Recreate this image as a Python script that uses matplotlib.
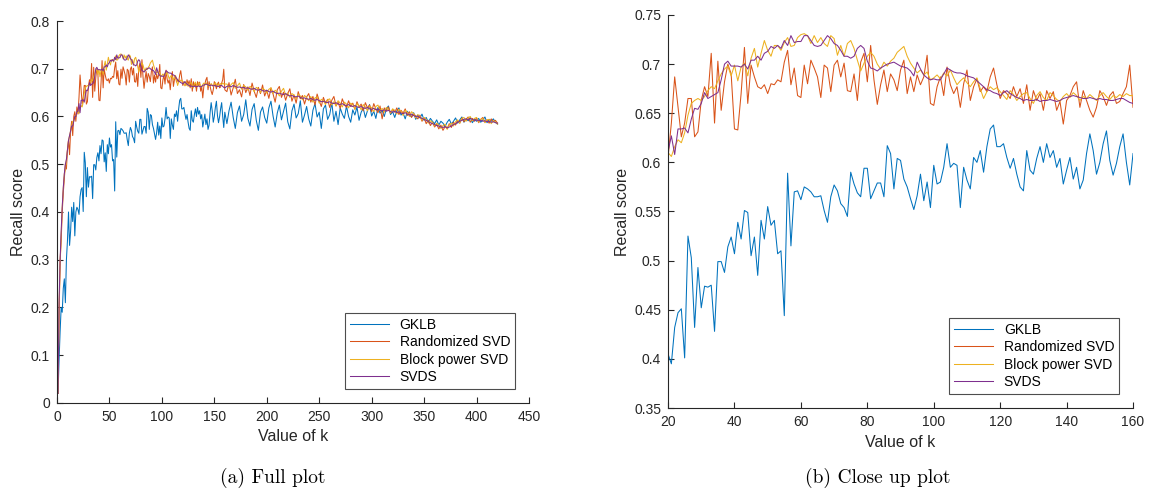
import numpy as np
import matplotlib
matplotlib.use("Agg")
import matplotlib.pyplot as plt
from matplotlib.ticker import FuncFormatter

# MATLAB default line colours
COLORS = ["#0072BD", "#D95319", "#EDB120", "#7E2F8E"]
LABELS = ["GKLB", "Randomized SVD", "Block power SVD", "SVDS"]

# values of k: start (1..19), close-up range (20..160), tail (every 2nd k to 420)
k_start = np.arange(1, 20)
k_mid = np.arange(20, 161)
k_tail = np.arange(162, 421, 2)

# ---- k = 1..19 ----
gklb_start = [0.02, 0.09, 0.15, 0.20, 0.19, 0.24, 0.26, 0.21, 0.30, 0.34,
              0.40, 0.33, 0.36, 0.41, 0.38, 0.42, 0.35, 0.40, 0.41]
rand_start = [0.02, 0.18, 0.30, 0.34, 0.40, 0.44, 0.47, 0.50, 0.49, 0.53,
              0.55, 0.52, 0.57, 0.59, 0.56, 0.60, 0.61, 0.59, 0.62]
block_start = [0.02, 0.20, 0.29, 0.35, 0.41, 0.45, 0.48, 0.49, 0.51, 0.53,
               0.55, 0.56, 0.57, 0.58, 0.59, 0.59, 0.60, 0.60, 0.61]
svds_start = [0.02, 0.21, 0.30, 0.36, 0.41, 0.45, 0.48, 0.50, 0.51, 0.53,
              0.55, 0.56, 0.57, 0.58, 0.58, 0.59, 0.60, 0.60, 0.61]

# ---- k = 20..160 ----
gklb_mid = [0.405, 0.395, 0.432, 0.447, 0.451, 0.401, 0.525, 0.503, 0.432, 0.493,
            0.452, 0.474, 0.473, 0.475, 0.428, 0.499, 0.499, 0.488, 0.514, 0.524,
            0.507, 0.539, 0.522, 0.551, 0.549, 0.505, 0.524, 0.485, 0.541, 0.522,
            0.555, 0.536, 0.541, 0.507, 0.510, 0.444, 0.589, 0.515, 0.570, 0.571,
            0.562, 0.575, 0.573, 0.570, 0.565, 0.565, 0.566, 0.551, 0.539, 0.565,
            0.577, 0.571, 0.558, 0.554, 0.545, 0.590, 0.578, 0.569, 0.565, 0.594,
            0.594, 0.563, 0.571, 0.579, 0.579, 0.565, 0.617, 0.609, 0.573, 0.604,
            0.602, 0.583, 0.575, 0.563, 0.552, 0.566, 0.588, 0.561, 0.580, 0.554,
            0.597, 0.578, 0.580, 0.595, 0.619, 0.595, 0.599, 0.597, 0.554, 0.595,
            0.582, 0.573, 0.605, 0.600, 0.612, 0.590, 0.616, 0.634, 0.638, 0.616,
            0.616, 0.619, 0.605, 0.594, 0.604, 0.588, 0.575, 0.571, 0.612, 0.592,
            0.588, 0.604, 0.616, 0.600, 0.619, 0.605, 0.612, 0.595, 0.604, 0.578,
            0.592, 0.605, 0.583, 0.595, 0.573, 0.582, 0.609, 0.629, 0.612, 0.588,
            0.600, 0.619, 0.632, 0.602, 0.587, 0.599, 0.616, 0.629, 0.600, 0.577,
            0.609]
rand_mid = [0.605, 0.640, 0.687, 0.657, 0.626, 0.640, 0.665, 0.665, 0.626, 0.631,
            0.663, 0.677, 0.667, 0.711, 0.640, 0.703, 0.653, 0.682, 0.700, 0.690,
            0.634, 0.633, 0.670, 0.717, 0.660, 0.699, 0.687, 0.677, 0.675, 0.679,
            0.670, 0.680, 0.679, 0.684, 0.682, 0.702, 0.714, 0.679, 0.696, 0.668,
            0.666, 0.699, 0.680, 0.704, 0.696, 0.687, 0.666, 0.699, 0.696, 0.672,
            0.699, 0.704, 0.687, 0.701, 0.673, 0.672, 0.690, 0.663, 0.702, 0.711,
            0.682, 0.719, 0.684, 0.659, 0.679, 0.694, 0.672, 0.690, 0.684, 0.673,
            0.694, 0.704, 0.670, 0.687, 0.672, 0.689, 0.679, 0.687, 0.709, 0.660,
            0.658, 0.677, 0.687, 0.668, 0.697, 0.679, 0.670, 0.677, 0.656, 0.680,
            0.694, 0.663, 0.677, 0.685, 0.672, 0.677, 0.672, 0.687, 0.696, 0.679,
            0.665, 0.673, 0.670, 0.665, 0.677, 0.667, 0.675, 0.660, 0.679, 0.653,
            0.673, 0.663, 0.670, 0.653, 0.673, 0.665, 0.672, 0.653, 0.662, 0.639,
            0.663, 0.668, 0.677, 0.682, 0.656, 0.673, 0.663, 0.653, 0.646, 0.656,
            0.673, 0.667, 0.658, 0.668, 0.672, 0.660, 0.662, 0.670, 0.677, 0.699,
            0.656]
block_mid = [0.610, 0.606, 0.616, 0.623, 0.620, 0.630, 0.648, 0.660, 0.663, 0.665,
             0.663, 0.667, 0.673, 0.677, 0.675, 0.683, 0.690, 0.695, 0.698, 0.688,
             0.699, 0.683, 0.697, 0.701, 0.688, 0.706, 0.716, 0.697, 0.711, 0.724,
             0.714, 0.708, 0.719, 0.719, 0.714, 0.722, 0.727, 0.718, 0.719, 0.727,
             0.730, 0.731, 0.729, 0.721, 0.729, 0.722, 0.727, 0.721, 0.718, 0.729,
             0.726, 0.709, 0.719, 0.708, 0.721, 0.724, 0.716, 0.704, 0.693, 0.701,
             0.708, 0.712, 0.708, 0.700, 0.695, 0.702, 0.698, 0.703, 0.706, 0.712,
             0.715, 0.718, 0.708, 0.701, 0.696, 0.691, 0.694, 0.689, 0.692, 0.684,
             0.686, 0.689, 0.685, 0.691, 0.688, 0.694, 0.686, 0.679, 0.683, 0.686,
             0.681, 0.677, 0.682, 0.686, 0.675, 0.665, 0.672, 0.677, 0.674, 0.676,
             0.672, 0.668, 0.664, 0.673, 0.669, 0.663, 0.667, 0.670, 0.671, 0.665,
             0.660, 0.668, 0.672, 0.666, 0.663, 0.671, 0.668, 0.664, 0.662, 0.667,
             0.670, 0.666, 0.671, 0.668, 0.663, 0.667, 0.665, 0.669, 0.666, 0.663,
             0.668, 0.671, 0.667, 0.664, 0.668, 0.666, 0.669, 0.667, 0.670, 0.668,
             0.668]
svds_mid = [0.611, 0.627, 0.608, 0.634, 0.634, 0.635, 0.630, 0.644, 0.655, 0.654,
            0.660, 0.671, 0.665, 0.667, 0.669, 0.671, 0.684, 0.700, 0.703, 0.698,
            0.698, 0.698, 0.697, 0.700, 0.695, 0.704, 0.704, 0.708, 0.704, 0.711,
            0.713, 0.718, 0.716, 0.719, 0.716, 0.724, 0.719, 0.729, 0.722, 0.723,
            0.723, 0.729, 0.729, 0.724, 0.719, 0.718, 0.719, 0.724, 0.729, 0.726,
            0.721, 0.719, 0.714, 0.708, 0.708, 0.706, 0.708, 0.716, 0.719, 0.716,
            0.703, 0.696, 0.695, 0.693, 0.696, 0.698, 0.700, 0.701, 0.702, 0.700,
            0.698, 0.697, 0.696, 0.693, 0.688, 0.702, 0.695, 0.689, 0.686, 0.684,
            0.685, 0.684, 0.684, 0.690, 0.696, 0.694, 0.692, 0.691, 0.691, 0.690,
            0.688, 0.687, 0.686, 0.683, 0.680, 0.677, 0.674, 0.673, 0.671, 0.670,
            0.668, 0.671, 0.673, 0.670, 0.668, 0.666, 0.665, 0.663, 0.664, 0.663,
            0.663, 0.664, 0.662, 0.663, 0.663, 0.664, 0.663, 0.662, 0.663, 0.665,
            0.666, 0.667, 0.668, 0.667, 0.666, 0.665, 0.665, 0.666, 0.665, 0.664,
            0.665, 0.664, 0.664, 0.663, 0.663, 0.664, 0.665, 0.665, 0.663, 0.661,
            0.660]

# ---- k = 162..420 (every 2nd k) ----
gklb_tail = [0.585, 0.612, 0.630, 0.598, 0.575, 0.608, 0.622, 0.590, 0.604, 0.635,
             0.596, 0.580, 0.615, 0.627, 0.592, 0.571, 0.609, 0.620, 0.598, 0.586,
             0.618, 0.632, 0.601, 0.578, 0.607, 0.624, 0.593, 0.611, 0.628, 0.589,
             0.574, 0.612, 0.626, 0.597, 0.606, 0.633, 0.588, 0.603, 0.621, 0.595,
             0.580, 0.613, 0.627, 0.599, 0.609, 0.575, 0.616, 0.624, 0.594, 0.604,
             0.629, 0.590, 0.611, 0.583, 0.618, 0.605, 0.596, 0.622, 0.600, 0.588,
             0.614, 0.603, 0.620, 0.592, 0.609, 0.617, 0.598, 0.612, 0.625, 0.601,
             0.611, 0.596, 0.619, 0.607, 0.613, 0.600, 0.616, 0.622, 0.604, 0.610,
             0.598, 0.612, 0.618, 0.603, 0.607, 0.595, 0.611, 0.604, 0.599, 0.608,
             0.594, 0.603, 0.597, 0.605, 0.592, 0.598, 0.588, 0.596, 0.590, 0.585,
             0.593, 0.582, 0.590, 0.586, 0.579, 0.588, 0.594, 0.584, 0.590, 0.597,
             0.586, 0.593, 0.599, 0.588, 0.595, 0.591, 0.598, 0.587, 0.594, 0.590,
             0.596, 0.588, 0.593, 0.599, 0.587, 0.594, 0.590, 0.595, 0.588, 0.584]
rand_tail = [0.652, 0.671, 0.645, 0.660, 0.678, 0.648, 0.656, 0.641, 0.667, 0.650,
             0.662, 0.644, 0.670, 0.653, 0.640, 0.661, 0.648, 0.666, 0.643, 0.655,
             0.638, 0.660, 0.647, 0.630, 0.656, 0.663, 0.640, 0.651, 0.634, 0.648,
             0.658, 0.632, 0.645, 0.628, 0.652, 0.637, 0.644, 0.626, 0.641, 0.648,
             0.630, 0.642, 0.624, 0.647, 0.633, 0.621, 0.640, 0.628, 0.636, 0.619,
             0.634, 0.642, 0.622, 0.630, 0.617, 0.637, 0.625, 0.619, 0.633, 0.621,
             0.628, 0.615, 0.631, 0.620, 0.626, 0.612, 0.629, 0.618, 0.624, 0.610,
             0.627, 0.616, 0.608, 0.622, 0.595, 0.618, 0.612, 0.620, 0.607, 0.615,
             0.609, 0.618, 0.604, 0.613, 0.607, 0.616, 0.602, 0.610, 0.598, 0.606,
             0.601, 0.595, 0.603, 0.590, 0.597, 0.585, 0.592, 0.581, 0.588, 0.578,
             0.584, 0.574, 0.582, 0.571, 0.579, 0.575, 0.585, 0.577, 0.588, 0.582,
             0.592, 0.586, 0.597, 0.589, 0.594, 0.599, 0.588, 0.596, 0.590, 0.597,
             0.587, 0.594, 0.598, 0.588, 0.593, 0.586, 0.595, 0.589, 0.592, 0.586]
block_tail = [0.668, 0.660, 0.667, 0.671, 0.659, 0.664, 0.670, 0.657, 0.665, 0.662,
              0.655, 0.663, 0.660, 0.652, 0.661, 0.658, 0.650, 0.659, 0.656, 0.649,
              0.657, 0.660, 0.648, 0.655, 0.651, 0.643, 0.653, 0.659, 0.645, 0.649,
              0.640, 0.648, 0.645, 0.637, 0.647, 0.643, 0.635, 0.644, 0.640, 0.633,
              0.642, 0.630, 0.639, 0.641, 0.628, 0.636, 0.633, 0.625, 0.635, 0.637,
              0.624, 0.631, 0.622, 0.633, 0.628, 0.620, 0.630, 0.626, 0.618, 0.628,
              0.625, 0.616, 0.627, 0.622, 0.614, 0.625, 0.620, 0.612, 0.622, 0.618,
              0.610, 0.621, 0.624, 0.612, 0.617, 0.609, 0.619, 0.615, 0.607, 0.616,
              0.613, 0.605, 0.615, 0.611, 0.602, 0.613, 0.609, 0.600, 0.610, 0.606,
              0.597, 0.604, 0.600, 0.592, 0.598, 0.594, 0.586, 0.591, 0.588, 0.580,
              0.586, 0.582, 0.575, 0.581, 0.584, 0.573, 0.582, 0.586, 0.580, 0.589,
              0.593, 0.586, 0.596, 0.598, 0.590, 0.597, 0.600, 0.591, 0.596, 0.598,
              0.588, 0.594, 0.596, 0.587, 0.593, 0.594, 0.585, 0.591, 0.589, 0.584]
svds_tail = [0.663, 0.664, 0.662, 0.665, 0.663, 0.661, 0.662, 0.660, 0.661, 0.659,
             0.660, 0.658, 0.657, 0.659, 0.656, 0.655, 0.657, 0.654, 0.653, 0.655,
             0.652, 0.651, 0.653, 0.650, 0.648, 0.649, 0.647, 0.646, 0.648, 0.645,
             0.643, 0.644, 0.642, 0.641, 0.643, 0.640, 0.638, 0.639, 0.637, 0.636,
             0.638, 0.635, 0.634, 0.636, 0.633, 0.631, 0.632, 0.630, 0.629, 0.631,
             0.628, 0.627, 0.629, 0.626, 0.625, 0.627, 0.624, 0.623, 0.625, 0.622,
             0.621, 0.623, 0.620, 0.619, 0.621, 0.618, 0.617, 0.619, 0.616, 0.615,
             0.617, 0.614, 0.616, 0.613, 0.612, 0.614, 0.611, 0.613, 0.610, 0.609,
             0.611, 0.608, 0.610, 0.607, 0.606, 0.608, 0.605, 0.603, 0.605, 0.602,
             0.600, 0.601, 0.598, 0.596, 0.594, 0.592, 0.589, 0.587, 0.585, 0.583,
             0.581, 0.580, 0.578, 0.577, 0.579, 0.576, 0.578, 0.580, 0.583, 0.585,
             0.588, 0.590, 0.592, 0.594, 0.595, 0.593, 0.596, 0.594, 0.592, 0.593,
             0.591, 0.592, 0.590, 0.591, 0.589, 0.590, 0.588, 0.589, 0.587, 0.586]

series_start = [gklb_start, rand_start, block_start, svds_start]
series_mid = [gklb_mid, rand_mid, block_mid, svds_mid]
series_tail = [gklb_tail, rand_tail, block_tail, svds_tail]

plt.rcParams["font.family"] = ["Liberation Sans", "DejaVu Sans"]
AX_COLOR = "#262626"

fig = plt.figure(figsize=(11.51, 4.93), dpi=100)
ax1 = fig.add_axes([0.0495, 0.1826, 0.4101, 0.7748])
ax2 = fig.add_axes([0.5804, 0.1724, 0.4040, 0.7972])

k_full = np.concatenate([k_start, k_mid, k_tail])
for s0, s1, s2, color, label in zip(series_start, series_mid, series_tail, COLORS, LABELS):
    ax1.plot(k_full, np.concatenate([s0, s1, s2]), color=color, lw=0.75, label=label)
    ax2.plot(k_mid, s1, color=color, lw=0.75, label=label)

ax1.set_xlim(0, 450)
ax1.set_ylim(0, 0.8)
ax1.set_xticks(np.arange(0, 451, 50))
ax1.set_yticks(np.arange(0, 0.81, 0.1))

ax2.set_xlim(20, 160)
ax2.set_ylim(0.35, 0.75)
ax2.set_xticks(np.arange(20, 161, 20))
ax2.set_yticks(np.arange(0.35, 0.751, 0.05))

fmt = FuncFormatter(lambda v, pos: f"{round(v, 3):g}")
for ax in (ax1, ax2):
    ax.yaxis.set_major_formatter(fmt)
    ax.spines["top"].set_visible(False)
    ax.spines["right"].set_visible(False)
    for sp in ("left", "bottom"):
        ax.spines[sp].set_color(AX_COLOR)
        ax.spines[sp].set_linewidth(0.8)
    ax.tick_params(direction="in", length=4, width=0.8, colors=AX_COLOR,
                   labelsize=10, pad=5)
    ax.set_xlabel("Value of k", fontsize=11.5, color=AX_COLOR, labelpad=4)
    ax.set_ylabel("Recall score", fontsize=11.5, color=AX_COLOR, labelpad=3)
    leg = ax.legend(loc="lower right", fontsize=10, frameon=True, fancybox=False,
                    edgecolor="#4d4d4d", framealpha=1, handlelength=2.8,
                    labelspacing=0.25, borderpad=0.35, borderaxespad=1.0)
    leg.get_frame().set_linewidth(0.8)

fig.text(0.237, 0.030, "(a) Full plot", ha="center", va="center",
         fontsize=14, family="cmr10")
fig.text(0.763, 0.030, "(b) Close up plot", ha="center", va="center",
         fontsize=14, family="cmr10")

fig.savefig("out.png", dpi=100)
